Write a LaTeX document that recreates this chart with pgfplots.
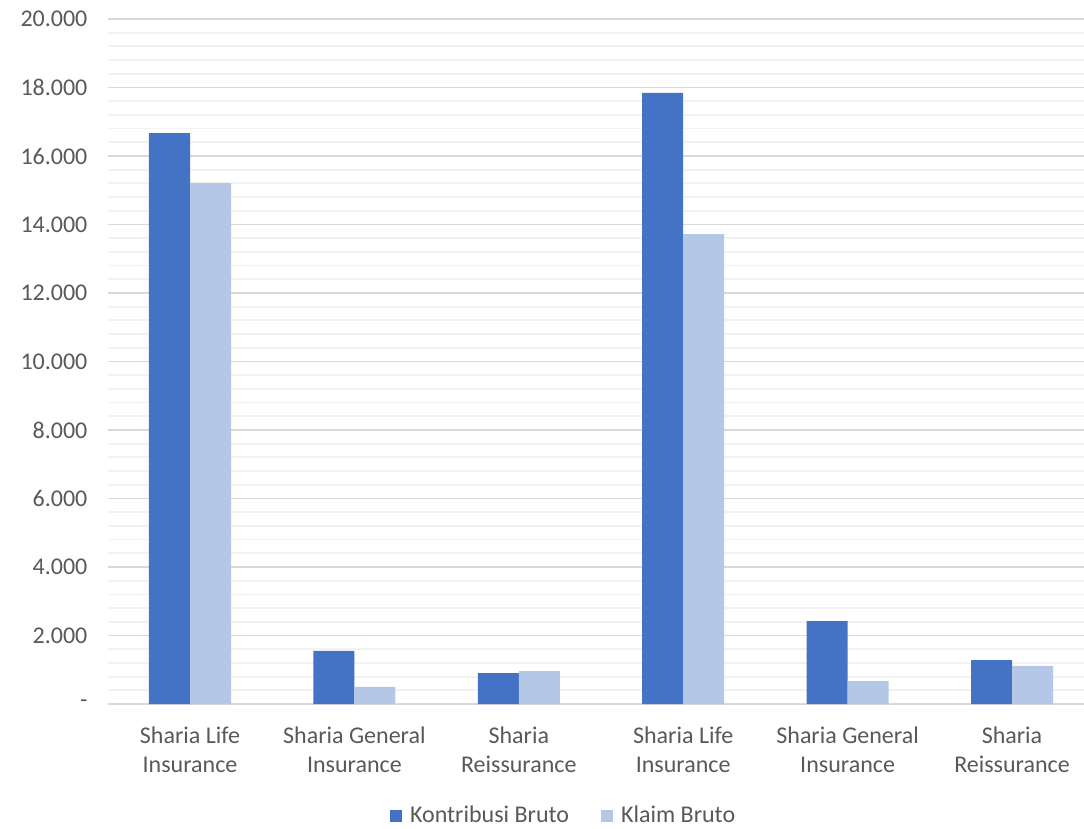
\documentclass[border=0pt]{standalone}
\usepackage{pgfplots}
\pgfplotsset{compat=1.18}
\usepackage{fontspec}
\setmainfont{Carlito}
\usetikzlibrary{calc}
\definecolor{dk}{HTML}{4472C4}
\definecolor{lt}{HTML}{B4C7E7}
\definecolor{txt}{HTML}{595959}
\definecolor{gmaj}{HTML}{D9D9D9}
\definecolor{gmin}{HTML}{F2F2F2}
\begin{document}
\fontsize{12}{14.5}\selectfont
\begin{tikzpicture}
\begin{axis}[
  scale only axis,
  width=488.1pt, height=342.5pt,
  ybar=0pt, bar width=20.5pt,
  xmin=-0.5, xmax=5.438, ymin=0, ymax=20000,
  scaled y ticks=false, scaled x ticks=false,
  xtick={0,1,2,3,4,5},
  xticklabels={{Sharia Life\\Insurance},{Sharia General\\Insurance},{Sharia\\Reissurance},{Sharia Life\\Insurance},{Sharia General\\Insurance},{Sharia\\Reissurance}},
  xticklabel style={align=center, text=txt, font=\fontsize{12}{14.5}\selectfont, yshift=-7pt},
  ytick={0,2000,4000,6000,8000,10000,12000,14000,16000,18000,20000},
  yticklabels={{-\hspace{4.5pt}},{2.000},{4.000},{6.000},{8.000},{10.000},{12.000},{14.000},{16.000},{18.000},{20.000}},
  yticklabel style={text=txt, font=\fontsize{12}{14.5}\selectfont, xshift=-6pt},
  minor y tick num=4,
  ymajorgrids, yminorgrids,
  major grid style={gmaj, line width=0.9pt},
  minor grid style={gmin, line width=0.9pt},
  major tick length=0pt, minor tick length=0pt,
  axis x line*=bottom,
  axis y line*=left,
  x axis line style={draw=gmaj, line width=1pt, -},
  y axis line style={draw=none},
  legend style={at={(0.468,-0.1635)}, anchor=center, draw=none, legend columns=2, font=\fontsize{12}{14.5}\selectfont, text=txt, /tikz/every even column/.append style={column sep=14pt}},
  legend image code/.code={\fill[#1] (0pt,-3pt) rectangle (6pt,3pt);},
  legend cell align=left,
]
\addplot[fill=dk, draw=none] coordinates {(0,16670) (1,1550) (2,900) (3,17840) (4,2420) (5,1280)};
\addplot[fill=lt, draw=none] coordinates {(0,15210) (1,500) (2,960) (3,13720) (4,670) (5,1110)};
\legend{\,Kontribusi Bruto, \,Klaim Bruto}
\end{axis}
\pgfresetboundingbox
\path ($(current axis.south west)+(-53.9pt,-62pt)$) rectangle ($(current axis.north east)+(0pt,9.5pt)$);
\end{tikzpicture}
\end{document}
